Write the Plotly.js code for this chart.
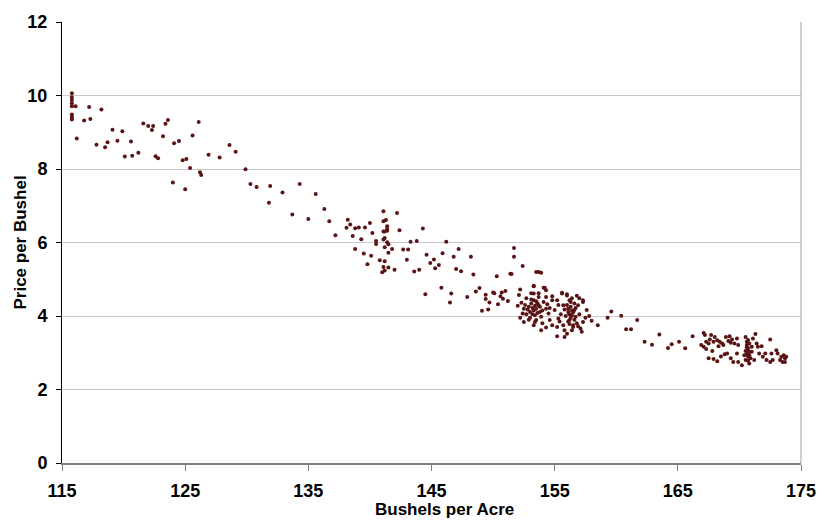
<!DOCTYPE html>
<html>
<head>
<meta charset="utf-8">
<script src="https://cdn.plot.ly/plotly-3.0.1.min.js"></script>
<style>
  html, body { margin: 0; padding: 0; background: #fff; }
  #chart { width: 825px; height: 521px; }
</style>
</head>
<body>
<div id="chart"></div>
<script>
// Bushels per acre (x) and price per bushel (y)
const bushels = [
  // 115 - 131
  115.8, 115.8, 115.8, 115.8, 115.8, 116.1, 115.8, 115.8, 115.8, 115.8,
  116.2, 116.8, 117.2, 117.3, 117.8, 118.2, 118.5, 118.7, 119.1, 119.5,
  119.9, 120.1, 120.6, 120.7, 121.2, 121.6, 122.0, 122.3, 122.4, 122.6,
  122.8, 123.2, 123.4, 123.6, 124.0, 124.1, 124.5, 124.8, 125.0, 125.1,
  125.4, 125.6, 126.1, 126.2, 126.3, 126.9, 127.8, 128.6, 129.1, 129.9,
  130.3,
  // 130 - 146
  130.8, 131.9, 132.9, 131.8, 134.3, 135.6, 133.7, 135.0, 136.3, 136.7,
  137.2, 138.2, 138.4, 138.1, 138.8, 139.1, 139.6, 138.6, 139.3, 140.0,
  140.2, 138.8, 139.5, 140.1, 139.8, 140.5, 140.5, 140.8, 141.1, 141.1,
  141.3, 141.4, 141.4, 141.2, 141.1, 141.4, 141.2, 141.1, 141.4, 141.5,
  141.2, 141.5, 141.8, 141.2, 141.1, 141.5, 141.2, 141.0, 142.2, 142.4,
  142.0, 142.7, 143.1, 143.0, 143.3, 143.8, 144.3, 143.6, 144.0, 144.6,
  144.9, 145.2, 145.3, 145.6,
  // 145 - 154
  145.9, 146.2, 146.8, 147.0, 147.2, 147.4, 148.2, 148.4, 145.8, 144.5,
  146.6, 146.5, 147.9, 148.6, 148.9, 149.1, 149.4, 149.4, 149.6, 149.7,
  150.0, 150.1, 150.3, 150.4, 150.6, 150.7, 150.8, 151.0, 151.2, 151.4,
  151.5, 151.7, 151.7, 152.4, 153.5, 153.7, 153.9,
  // cluster near 153
  152.2, 152.1, 152.3, 152.4, 152.5, 152.7, 152.9, 153.0, 153.1, 153.3,
  153.3, 153.3, 153.4, 153.5, 153.5, 153.7, 153.7, 153.8, 153.9, 154.1,
  154.2, 154.3, 154.3, 154.5, 154.6, 154.8, 154.8, 153.3, 154.1, 153.4,
  153.9, 154.3, 154.8, 154.3, 153.2, 153.3, 153.4, 153.2, 153.6, 153.1,
  152.8, 152.6, 153.0, 153.6, 153.8, 154.0, 153.5, 153.3, 152.9, 153.1,
  154.4, 154.6, 152.5, 152.0, 152.2, 154.0, 153.7, 152.7,
  // cluster near 156
  155.0, 155.2, 155.3, 155.6, 155.7, 155.8, 156.0, 156.1, 156.2, 156.2,
  156.3, 156.4, 156.5, 156.6, 156.6, 156.7, 156.8, 156.9, 156.0, 155.8,
  156.4, 156.5, 157.1, 157.2, 157.3, 157.3, 157.6, 158.0, 158.5, 155.2,
  155.6, 156.0, 157.3, 155.2, 156.1, 156.2, 156.3, 156.0, 156.4, 156.1,
  156.3, 156.5, 156.2, 155.9, 156.6, 156.4, 155.8, 156.7, 155.5, 155.4,
  157.0, 157.0, 155.3, 156.8, 157.5, 155.7, 156.9, 157.8,
  // 159 - 166
  159.3, 159.6, 160.4, 160.8, 161.2, 161.7, 162.3, 162.9, 163.5, 164.2,
  164.5, 165.1, 165.6, 166.2,
  // cluster near 170
  167.1, 167.2, 166.9, 167.1, 167.3, 167.5, 167.6, 167.7, 167.9, 168.0,
  167.5, 167.9, 168.2, 168.2, 168.4, 168.6, 168.7, 168.9, 169.1, 169.2,
  169.3, 169.4, 169.6, 169.8, 169.9, 168.8, 169.0, 169.5, 169.8, 169.9,
  170.2, 170.5, 170.6, 170.6, 170.7, 170.6, 170.8, 170.7, 170.8, 170.7,
  170.9, 170.5, 171.0, 171.0, 170.4, 170.8, 171.2, 171.3, 171.1, 171.4,
  171.5, 171.8, 171.6, 171.9, 172.1, 172.2, 172.5, 172.5, 172.6, 172.7,
  173.0, 173.1, 173.3, 173.4, 173.5, 173.6, 173.7, 173.7, 173.8, 167.3,
  167.8, 168.3, 168.5, 169.3, 170.6, 170.7, 170.5, 170.8, 170.7, 170.6
];

const price = [
  // 115 - 131
  10.06, 9.95, 9.88, 9.79, 9.71, 9.71, 9.48, 9.44, 9.39, 9.35,
  8.83, 9.32, 9.69, 9.36, 8.66, 9.62, 8.59, 8.73, 9.07, 8.77,
  9.03, 8.34, 8.75, 8.36, 8.44, 9.24, 9.17, 9.06, 9.17, 8.35,
  8.29, 8.89, 9.23, 9.33, 7.63, 8.70, 8.76, 8.24, 7.45, 8.27,
  8.03, 8.91, 9.28, 7.91, 7.84, 8.39, 8.31, 8.65, 8.47, 7.99,
  7.59,
  // 130 - 146
  7.51, 7.54, 7.36, 7.08, 7.59, 7.32, 6.76, 6.64, 6.91, 6.58,
  6.20, 6.62, 6.49, 6.40, 6.39, 6.41, 6.41, 6.18, 6.09, 6.53,
  6.26, 5.82, 5.70, 5.64, 5.41, 6.04, 5.96, 5.52, 6.85, 6.58,
  6.61, 6.44, 6.37, 6.30, 6.30, 6.32, 6.12, 6.08, 6.01, 5.95,
  5.87, 5.72, 5.82, 5.49, 5.33, 5.32, 5.24, 5.19, 6.80, 6.33,
  5.26, 5.81, 5.81, 5.53, 6.02, 6.04, 6.38, 5.21, 5.26, 5.67,
  5.44, 5.54, 5.30, 5.39,
  // 145 - 154
  5.71, 6.02, 5.61, 5.28, 5.82, 5.22, 5.61, 5.13, 4.77, 4.59,
  4.61, 4.37, 4.52, 4.67, 4.76, 4.14, 4.58, 4.46, 4.18, 4.37,
  4.64, 4.62, 5.08, 4.32, 4.54, 4.64, 4.47, 4.68, 4.41, 5.15,
  5.14, 5.85, 5.61, 5.36, 5.20, 5.20, 5.18,
  // cluster near 153
  4.72, 4.57, 4.36, 4.07, 3.84, 4.48, 4.25, 4.11, 4.34, 4.81,
  4.61, 4.43, 4.02, 4.20, 3.89, 4.52, 4.29, 4.11, 3.98, 4.38,
  4.77, 4.70, 4.20, 4.07, 3.89, 4.43, 4.54, 4.82, 4.77, 3.84,
  3.61, 3.69, 3.75, 4.52, 4.22, 4.15, 4.28, 4.05, 4.35, 4.45,
  4.18, 4.30, 3.95, 4.08, 4.25, 4.15, 4.40, 3.75, 3.90, 4.62,
  4.32, 4.22, 4.20, 4.28, 3.95, 3.80, 4.62, 4.05,
  // cluster near 156
  4.16, 3.70, 3.93, 4.61, 4.29, 3.61, 4.56, 4.11, 3.89, 4.43,
  4.25, 4.02, 3.70, 4.34, 4.16, 3.98, 3.80, 4.29, 3.52, 3.43,
  3.61, 3.75, 3.66, 3.57, 3.84, 4.38, 4.16, 3.87, 3.75, 4.43,
  4.63, 4.59, 4.43, 3.45, 4.20, 4.05, 3.95, 4.30, 4.15, 3.85,
  4.38, 4.10, 3.78, 4.00, 3.90, 4.48, 4.18, 4.22, 4.05, 3.85,
  4.05, 4.48, 4.30, 4.55, 3.95, 3.75, 3.72, 4.00,
  // 159 - 166
  3.95, 4.12, 4.01, 3.64, 3.64, 3.89, 3.30, 3.22, 3.50, 3.13,
  3.23, 3.30, 3.12, 3.45,
  // cluster near 170
  3.54, 3.48, 3.21, 3.16, 3.30, 3.25, 3.36, 3.48, 3.30, 3.43,
  2.85, 2.83, 2.77, 3.34, 3.30, 3.25, 3.21, 3.43, 3.32, 3.45,
  3.27, 3.36, 3.25, 3.39, 3.21, 2.96, 2.98, 2.75, 2.98, 2.75,
  2.66, 3.43, 3.30, 3.21, 3.12, 3.07, 3.03, 2.98, 2.93, 2.89,
  2.85, 2.80, 3.16, 3.03, 2.93, 2.71, 2.80, 3.51, 3.39, 3.25,
  3.16, 3.18, 2.98, 2.89, 2.98, 2.80, 2.75, 3.36, 2.98, 2.80,
  3.07, 2.98, 2.80, 2.89, 2.75, 2.93, 2.85, 2.75, 2.89, 3.10,
  3.05, 3.18, 2.90, 2.85, 3.15, 3.35, 3.05, 3.25, 2.78, 2.95
];

const xTicks = [115, 125, 135, 145, 155, 165, 175];
const yTicks = [0, 2, 4, 6, 8, 10, 12];

const FONT = 'Arial, "Liberation Sans", sans-serif';
const tickFont = { family: FONT, size: 18, color: '#000', weight: 'bold' };
const titleFont = { family: FONT, size: 17, color: '#000', weight: 'bold' };

const trace = {
  x: bushels,
  y: price,
  type: 'scatter',
  mode: 'markers',
  marker: { size: 4, color: '#5a1414', line: { width: 0 } },
  hoverinfo: 'x+y'
};

const layout = {
  width: 825,
  height: 521,
  margin: { l: 62, r: 24, t: 22, b: 58 },
  paper_bgcolor: '#fff',
  plot_bgcolor: '#fff',
  showlegend: false,
  xaxis: {
    range: [115, 175],
    tickvals: xTicks,
    ticktext: xTicks.map(String),
    ticks: 'outside',
    ticklen: 6,
    tickcolor: '#808080',
    tickwidth: 1,
    ticklabelstandoff: 4,
    showline: true,
    linecolor: '#808080',
    linewidth: 2,
    showgrid: false,
    zeroline: false,
    tickfont: tickFont,
    automargin: false
  },
  yaxis: {
    range: [0, 12],
    tickvals: yTicks,
    ticktext: yTicks.map(String),
    ticks: 'outside',
    ticklen: 5,
    tickcolor: '#000',
    tickwidth: 1,
    ticklabelstandoff: 5,
    showline: true,
    linecolor: '#000',
    linewidth: 1,
    showgrid: true,
    gridcolor: '#c8c8c8',
    gridwidth: 1,
    zeroline: false,
    tickfont: tickFont,
    automargin: false
  },
  annotations: [
    // axis titles placed where the original has them
    { text: 'Bushels per Acre', xref: 'paper', yref: 'paper', x: 0.517, y: -0.106,
      xanchor: 'center', yanchor: 'middle', showarrow: false, font: titleFont },
    { text: 'Price per Bushel', xref: 'paper', yref: 'paper', x: -0.0568, y: 0.5,
      xanchor: 'center', yanchor: 'middle', textangle: -90, showarrow: false, font: titleFont }
  ],
  shapes: [
    // plot area border on the right
    { type: 'line', xref: 'paper', yref: 'paper', x0: 1, x1: 1, y0: 0, y1: 1,
      line: { color: '#a0a0a0', width: 1 } }
  ]
};

Plotly.newPlot('chart', [trace], layout, { staticPlot: true, displayModeBar: false });
</script>
</body>
</html>
